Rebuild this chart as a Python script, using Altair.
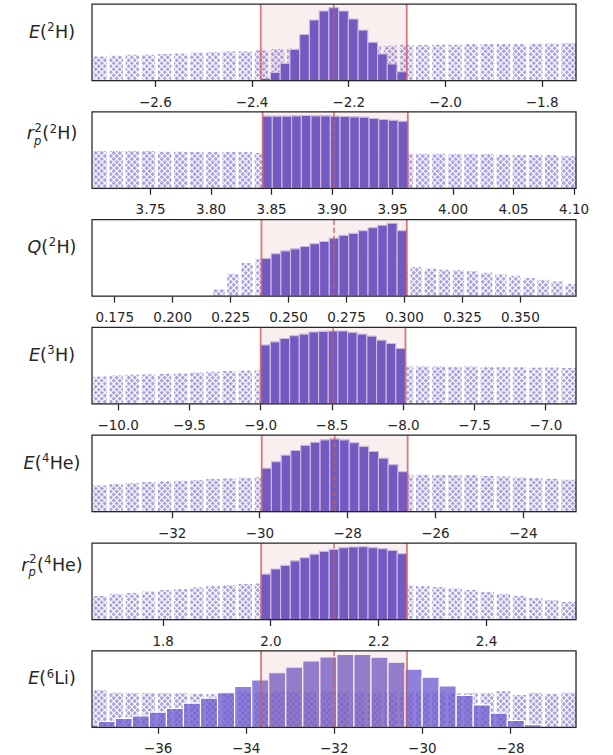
import altair as alt
import pandas as pd

# ---------------------------------------------------------------------------
# Colours, fonts, geometry
# ---------------------------------------------------------------------------
SLATE = "#6a5acd"
RED = "#cd5c5c"
INK = "#262626"
EDGE = "#cfc8f0"
FONT = "DejaVu Sans"

PANEL_W = 484
PANEL_H = 76.5
GAP = 30.8

TICK_FS = 13.5
LABEL_FS = 17.5

HATCH_SPACING = 6.0   # px between hatch lines (horizontal)
HATCH_WIDTH = 1.1
BIN_GAP = 2.7         # white gap between hatched bins

# ---------------------------------------------------------------------------
# Data: one block per observable.
# prior = wide hatched histogram, post = histogram inside the window.
# ---------------------------------------------------------------------------
# E(2H)
E2H_DOMAIN = [-2.730, -1.729]
E2H_TICKS = [-2.6, -2.4, -2.2, -2.0, -1.8]
E2H_PRIOR_START, E2H_PRIOR_STEP = -2.730, 0.03337
E2H_PRIOR = [24.0, 24.7, 25.7, 25.7, 26.3, 27.0, 28.0, 28.3, 29.0, 29.0,
             30.0, 31.3, 31.8, 32.3, 32.8, 33.3, 33.8, 34.2, 34.7, 35.7,
             35.3, 35.7, 35.7, 36.3, 36.3, 36.3, 36.3, 36.7, 37.0, 37.3]
E2H_WINDOW = [-2.381, -2.079]
E2H_CENTER = -2.230
E2H_POST_START, E2H_POST_STEP = -2.381, 0.02013
E2H_POST = [2.0, 8.0, 17.0, 30.7, 45.7, 60.0, 69.0, 72.3, 69.0, 61.0,
            50.0, 38.0, 26.3, 16.3, 8.7]

# r_p^2(2H)
R2H_DOMAIN = [3.702, 4.102]
R2H_TICKS = [3.75, 3.80, 3.85, 3.90, 3.95, 4.00, 4.05, 4.10]
R2H_PRIOR_START, R2H_PRIOR_STEP = 3.702, 0.01333
R2H_PRIOR = [37.0, 37.0, 37.0, 37.0, 36.3, 36.3, 36.0, 36.0, 36.0, 36.0,
             35.0, 35.0, 34.8, 34.8, 34.6, 34.6, 34.5, 34.5, 34.4, 34.3,
             34.3, 34.3, 34.0, 33.7, 33.7, 33.3, 33.0, 33.0, 32.7, 32.0]
R2H_WINDOW = [3.843, 3.963]
R2H_CENTER = 3.902
R2H_POST_START, R2H_POST_STEP = 3.843, 0.008
R2H_POST = [71.0, 71.0, 71.0, 71.3, 71.7, 71.3, 71.3, 71.0, 70.7, 70.3,
            70.0, 68.7, 67.7, 67.0, 66.0]

# Q(2H)
Q2H_DOMAIN = [0.1654, 0.3742]
Q2H_TICKS = [0.175, 0.200, 0.225, 0.250, 0.275, 0.300, 0.325, 0.350]
Q2H_PRIOR_START, Q2H_PRIOR_STEP = 0.2171, 0.00608
Q2H_PRIOR = [6.7, 22.3, 33.0, 37.3, 36.8, 36.2, 35.5, 34.8, 34.0, 33.2,
             32.4, 31.5, 30.6, 29.7, 28.7, 27.3, 26.3, 25.7, 25.0, 23.3,
             21.7, 20.3, 18.3, 16.3, 14.7, 12.0]
Q2H_WINDOW = [0.2385, 0.3012]
Q2H_CENTER = 0.2698
Q2H_POST_START, Q2H_POST_STEP = 0.2385, 0.00418
Q2H_POST = [37.3, 42.0, 44.7, 46.7, 49.0, 51.7, 54.0, 57.3, 60.0, 62.0,
            64.7, 67.7, 70.0, 72.0, 64.7]

# E(3H)
E3H_DOMAIN = [-10.18, -6.785]
E3H_TICKS = [-10.0, -9.5, -9.0, -8.5, -8.0, -7.5, -7.0]
E3H_PRIOR_START, E3H_PRIOR_STEP = -10.18, 0.11317
E3H_PRIOR = [27.3, 28.3, 29.0, 29.3, 30.0, 30.3, 31.3, 32.0, 32.7, 33.3,
             34.0, 34.5, 35.0, 35.5, 36.0, 36.3, 36.7, 37.0, 37.2, 37.3,
             37.3, 37.3, 37.0, 37.3, 36.7, 36.7, 36.7, 36.3, 36.3, 35.7]
E3H_WINDOW = [-8.997, -7.981]
E3H_CENTER = -8.489
E3H_POST_START, E3H_POST_STEP = -8.997, 0.06773
E3H_POST = [58.3, 61.3, 64.7, 67.3, 69.0, 71.0, 71.7, 72.0, 72.0, 70.7,
            69.0, 67.0, 63.0, 59.7, 54.7]

# E(4He)
E4HE_DOMAIN = [-33.815, -22.786]
E4HE_TICKS = [-32, -30, -28, -26, -24]
E4HE_PRIOR_START, E4HE_PRIOR_STEP = -33.815, 0.36763
E4HE_PRIOR = [26.0, 27.3, 28.3, 29.3, 30.0, 30.7, 31.3, 32.3, 33.0, 33.7,
              34.3, 34.8, 35.2, 35.6, 36.0, 36.3, 36.5, 36.7, 36.8, 36.7,
              36.7, 36.3, 36.0, 36.0, 35.3, 35.0, 34.0, 33.3, 32.7, 31.7]
E4HE_WINDOW = [-29.948, -26.622]
E4HE_CENTER = -28.285
E4HE_POST_START, E4HE_POST_STEP = -29.948, 0.22173
E4HE_POST = [42.7, 49.3, 55.7, 60.3, 65.3, 68.3, 70.7, 71.7, 70.7, 68.0,
             64.3, 59.3, 52.7, 46.3, 39.3]

# r_p^2(4He)
R4HE_DOMAIN = [1.6688, 2.567]
R4HE_TICKS = [1.8, 2.0, 2.2, 2.4]
R4HE_PRIOR_START, R4HE_PRIOR_STEP = 1.6688, 0.02994
R4HE_PRIOR = [23.3, 25.0, 26.3, 27.7, 29.0, 30.3, 31.7, 33.0, 34.0, 35.0,
              35.7, 36.0, 36.3, 36.5, 36.5, 36.3, 36.0, 35.5, 34.8, 34.0,
              33.3, 32.0, 30.7, 29.0, 27.3, 25.3, 23.3, 21.3, 19.3, 17.3]
R4HE_WINDOW = [1.9827, 2.2532]
R4HE_CENTER = 2.118
R4HE_POST_START, R4HE_POST_STEP = 1.9827, 0.018033
R4HE_POST = [44.7, 49.7, 53.3, 57.7, 60.7, 64.3, 67.0, 69.0, 70.7, 71.3,
             71.7, 70.7, 69.7, 68.0, 64.7]

# E(6Li)
E6LI_DOMAIN = [-37.49, -26.50]
E6LI_TICKS = [-36, -34, -32, -30, -28]
E6LI_PRIOR_START, E6LI_PRIOR_STEP = -37.49, 0.3663
E6LI_PRIOR = [36.7, 34.3, 34.0, 33.7, 33.7, 34.0, 33.3, 32.7, 33.5, 34.5,
              34.5, 35.0, 35.0, 34.5, 35.0, 34.5, 35.0, 34.5, 35.0, 35.0,
              34.5, 34.5, 34.0, 34.0, 34.0, 35.7, 31.7, 34.3, 33.3, 34.3]
E6LI_WINDOW = [-33.652, -30.336]
E6LI_CENTER = -31.994
E6LI_POST_START, E6LI_POST_STEP = -37.735, 0.387
E6LI_POST = [2.5, 5.7, 8.7, 11.3, 15.0, 18.7, 23.7, 28.7, 34.0, 40.3,
             46.7, 53.7, 59.3, 65.3, 69.3, 71.7, 71.7, 69.0, 64.0, 57.3,
             49.3, 40.7, 31.3, 22.0, 14.0, 6.7, 2.7]

# Row labels: (text, kind); kind = it | rm | sup | supsub
E2H_LABEL = [("E", "it"), ("(", "rm"), ("2", "sup"), ("H)", "rm")]
R2H_LABEL = [("r", "it"), (("2", "p"), "supsub"), ("(", "rm"), ("2", "sup"), ("H)", "rm")]
Q2H_LABEL = [("Q", "it"), ("(", "rm"), ("2", "sup"), ("H)", "rm")]
E3H_LABEL = [("E", "it"), ("(", "rm"), ("3", "sup"), ("H)", "rm")]
E4HE_LABEL = [("E", "it"), ("(", "rm"), ("4", "sup"), ("He)", "rm")]
R4HE_LABEL = [("r", "it"), (("2", "p"), "supsub"), ("(", "rm"), ("4", "sup"), ("He)", "rm")]
E6LI_LABEL = [("E", "it"), ("(", "rm"), ("6", "sup"), ("Li)", "rm")]

PANELS = [
    dict(domain=E2H_DOMAIN, ticks=E2H_TICKS, fmt=".1f",
         prior=(E2H_PRIOR_START, E2H_PRIOR_STEP, E2H_PRIOR),
         post=(E2H_POST_START, E2H_POST_STEP, E2H_POST),
         window=E2H_WINDOW, center=E2H_CENTER, label=E2H_LABEL, overlap=False),
    dict(domain=R2H_DOMAIN, ticks=R2H_TICKS, fmt=".2f",
         prior=(R2H_PRIOR_START, R2H_PRIOR_STEP, R2H_PRIOR),
         post=(R2H_POST_START, R2H_POST_STEP, R2H_POST),
         window=R2H_WINDOW, center=R2H_CENTER, label=R2H_LABEL, overlap=False),
    dict(domain=Q2H_DOMAIN, ticks=Q2H_TICKS, fmt=".3f",
         prior=(Q2H_PRIOR_START, Q2H_PRIOR_STEP, Q2H_PRIOR),
         post=(Q2H_POST_START, Q2H_POST_STEP, Q2H_POST),
         window=Q2H_WINDOW, center=Q2H_CENTER, label=Q2H_LABEL, overlap=False),
    dict(domain=E3H_DOMAIN, ticks=E3H_TICKS, fmt=".1f",
         prior=(E3H_PRIOR_START, E3H_PRIOR_STEP, E3H_PRIOR),
         post=(E3H_POST_START, E3H_POST_STEP, E3H_POST),
         window=E3H_WINDOW, center=E3H_CENTER, label=E3H_LABEL, overlap=False),
    dict(domain=E4HE_DOMAIN, ticks=E4HE_TICKS, fmt="d",
         prior=(E4HE_PRIOR_START, E4HE_PRIOR_STEP, E4HE_PRIOR),
         post=(E4HE_POST_START, E4HE_POST_STEP, E4HE_POST),
         window=E4HE_WINDOW, center=E4HE_CENTER, label=E4HE_LABEL, overlap=False),
    dict(domain=R4HE_DOMAIN, ticks=R4HE_TICKS, fmt=".1f",
         prior=(R4HE_PRIOR_START, R4HE_PRIOR_STEP, R4HE_PRIOR),
         post=(R4HE_POST_START, R4HE_POST_STEP, R4HE_POST),
         window=R4HE_WINDOW, center=R4HE_CENTER, label=R4HE_LABEL, overlap=False),
    dict(domain=E6LI_DOMAIN, ticks=E6LI_TICKS, fmt="d",
         prior=(E6LI_PRIOR_START, E6LI_PRIOR_STEP, E6LI_PRIOR),
         post=(E6LI_POST_START, E6LI_POST_STEP, E6LI_POST),
         window=E6LI_WINDOW, center=E6LI_CENTER, label=E6LI_LABEL, overlap=True),
]

# ---------------------------------------------------------------------------
# Helpers
# ---------------------------------------------------------------------------
# DejaVu Sans advance widths (em) for the glyphs used in the row labels
GLYPH_W = {"E": 0.632, "Q": 0.787, "H": 0.752, "e": 0.615, "L": 0.557,
           "i": 0.278, "(": 0.390, ")": 0.390, "r": 0.411, "p": 0.635,
           "2": 0.636, "3": 0.636, "4": 0.636, "6": 0.636}
SCRIPT = 0.66
ONE = pd.DataFrame({"k": [0]})


def text_width(s, fs):
    return sum(GLYPH_W[c] for c in s) * fs


def bins(start, step, heights):
    n = len(heights)
    return pd.DataFrame({
        "x0": [start + k * step for k in range(n)],
        "x1": [start + (k + 1) * step for k in range(n)],
        "h": heights,
    })


def hatch_lines(domain, ymax):
    """Diagonal 45-degree lines (both directions) across the plot area."""
    d0, d1 = domain
    per_px = (d1 - d0) / PANEL_W
    rows = []
    n = int((PANEL_W + PANEL_H) / HATCH_SPACING) + 3
    for k in range(-1, n):
        px = -PANEL_H + k * HATCH_SPACING
        rows.append((d0 + px * per_px, d0 + (px + PANEL_H) * per_px))
        qx = k * HATCH_SPACING
        rows.append((d0 + qx * per_px, d0 + (qx - PANEL_H) * per_px))
    return pd.DataFrame({"xa": [r[0] for r in rows], "xb": [r[1] for r in rows],
                         "ya": 0.0, "yb": ymax})


def text_mark(text, px, py, fs, italic):
    return alt.Chart(ONE).mark_text(
        text=text, font=FONT, fontSize=fs,
        fontStyle="italic" if italic else "normal",
        align="left", baseline="alphabetic", color=INK,
    ).encode(x=alt.value(px), y=alt.value(py))


def row_label(parts):
    fs = LABEL_FS
    sfs = fs * SCRIPT
    has_sub = any(kind == "supsub" for _, kind in parts)
    base_y = 27.5 if has_sub else 33.5
    widths = []
    for text, kind in parts:
        if kind in ("it", "rm"):
            widths.append(text_width(text, fs))
        elif kind == "sup":
            widths.append(text_width(text, sfs) + 0.05 * fs)
        else:
            widths.append(max(text_width(text[0], sfs), text_width(text[1], sfs)) + 0.06 * fs)
    x = -40.0 - sum(widths) / 2
    marks = []
    for (text, kind), w in zip(parts, widths):
        if kind == "it":
            marks.append(text_mark(text, x, base_y, fs, True))
        elif kind == "rm":
            marks.append(text_mark(text, x, base_y, fs, False))
        elif kind == "sup":
            marks.append(text_mark(text, x + 0.03 * fs, base_y - 0.38 * fs, sfs, False))
        else:
            # superscript and subscript stacked on the same slot
            marks.append(text_mark(text[0], x + 0.04 * fs, base_y - 0.44 * fs, sfs, False))
            marks.append(text_mark(text[1], x + 0.0 * fs, base_y + 0.30 * fs, sfs, True))
        x += w
    return marks


def make_panel(p, first):
    prior_df = bins(*p["prior"])
    post_df = bins(*p["post"])
    ymax = max(list(prior_df["h"]) + list(post_df["h"])) * 1.05
    lo, hi = p["window"]
    d0, d1 = p["domain"]

    xs = alt.Scale(domain=p["domain"], nice=False, zero=False)
    ys = alt.Scale(domain=[0, ymax], nice=False, zero=False)
    ax = alt.Axis(values=p["ticks"], format=p["fmt"], title=None, grid=False,
                  domain=False, ticks=True, tickSize=6, tickWidth=1.25,
                  tickColor=INK, labelColor=INK, labelFont=FONT,
                  labelFontSize=TICK_FS, labelPadding=8.5, labelFlush=False,
                  labelOverlap=False)

    def X(field):
        return alt.X(f"{field}:Q", scale=xs, axis=ax)

    def Yf(field):
        return alt.Y(f"{field}:Q", scale=ys, axis=None)

    # --- hatched prior: lavender bins, white cross-hatch, white masks ---
    prior_fill = alt.Chart(prior_df).mark_bar(
        clip=True, color=SLATE, opacity=0.56,
    ).encode(x=X("x0"), x2="x1", y=Yf("h"), y2=alt.datum(0))

    hatch = alt.Chart(hatch_lines(p["domain"], ymax)).mark_rule(
        clip=True, color="white", strokeWidth=HATCH_WIDTH, strokeCap="butt",
    ).encode(x=X("xa"), x2="xb", y=Yf("ya"), y2="yb")

    sky = alt.Chart(prior_df).mark_bar(clip=True, color="white").encode(
        x=X("x0"), x2="x1", y=Yf("h"), y2=alt.datum(ymax))

    seams = alt.Chart(prior_df).mark_rule(
        clip=True, color="white", strokeWidth=BIN_GAP,
    ).encode(x=X("x0"), y=alt.value(0), y2=alt.value(PANEL_H))

    p_start = p["prior"][0]
    p_end = p_start + p["prior"][1] * len(p["prior"][2])
    blanks = []
    if p_start > d0:
        blanks.append((d0, p_start))
    if p_end < d1:
        blanks.append((p_end, d1))
    layers = [prior_fill, hatch, sky, seams]
    if blanks:
        layers.append(alt.Chart(pd.DataFrame({"a": [b[0] for b in blanks],
                                              "b": [b[1] for b in blanks]}))
                      .mark_rect(clip=True, color="white")
                      .encode(x=X("a"), x2="b", y=alt.value(0), y2=alt.value(PANEL_H)))

    # --- posterior ---
    if p["overlap"]:
        post_mark = alt.Chart(post_df).mark_bar(
            clip=True, color=SLATE, fillOpacity=0.76, stroke="white", strokeWidth=1.2)
    else:
        post_mark = alt.Chart(post_df).mark_bar(
            clip=True, color=SLATE, stroke=EDGE, strokeWidth=1.1)
    post = post_mark.encode(x=X("x0"), x2="x1", y=Yf("h"), y2=alt.datum(0))

    span = alt.Chart(pd.DataFrame({"lo": [lo], "hi": [hi]})).mark_rect(
        color=RED, opacity=0.10,
    ).encode(x=X("lo"), x2="hi", y=alt.value(0), y2=alt.value(PANEL_H))

    edges = alt.Chart(pd.DataFrame({"v": [lo, hi]})).mark_rule(
        color=RED, opacity=0.8, strokeWidth=1.8,
    ).encode(x=X("v"), y=alt.value(0), y2=alt.value(PANEL_H))

    center = alt.Chart(pd.DataFrame({"v": [p["center"]]})).mark_rule(
        color=RED, opacity=0.8, strokeWidth=1.6, strokeDash=[5.5, 2.4],
    ).encode(x=X("v"), y=alt.value(0), y2=alt.value(PANEL_H))

    frame = alt.Chart(ONE).mark_rect(
        filled=False, color=INK, strokeWidth=1.25,
    ).encode(x=alt.value(0), x2=alt.value(PANEL_W), y=alt.value(0), y2=alt.value(PANEL_H))

    layers += [post, span, edges, center, frame] + row_label(p["label"])
    if first:
        # white hairline fixing the left/top extent of the figure
        layers.append(alt.Chart(ONE).mark_rule(color="white", strokeWidth=0.5).encode(
            x=alt.value(-90.75), y=alt.value(-3), y2=alt.value(-1)))
    return alt.layer(*layers).properties(width=PANEL_W, height=PANEL_H)


panels = [make_panel(p, i == 0) for i, p in enumerate(PANELS)]

chart = alt.vconcat(*panels, spacing=GAP, bounds="flush").properties(
    padding={"left": 0, "top": 0, "right": 5, "bottom": 2},
).configure_view(stroke="transparent").configure(background="white")

chart.save("out.html", embed_options={"renderer": "svg", "actions": False})
